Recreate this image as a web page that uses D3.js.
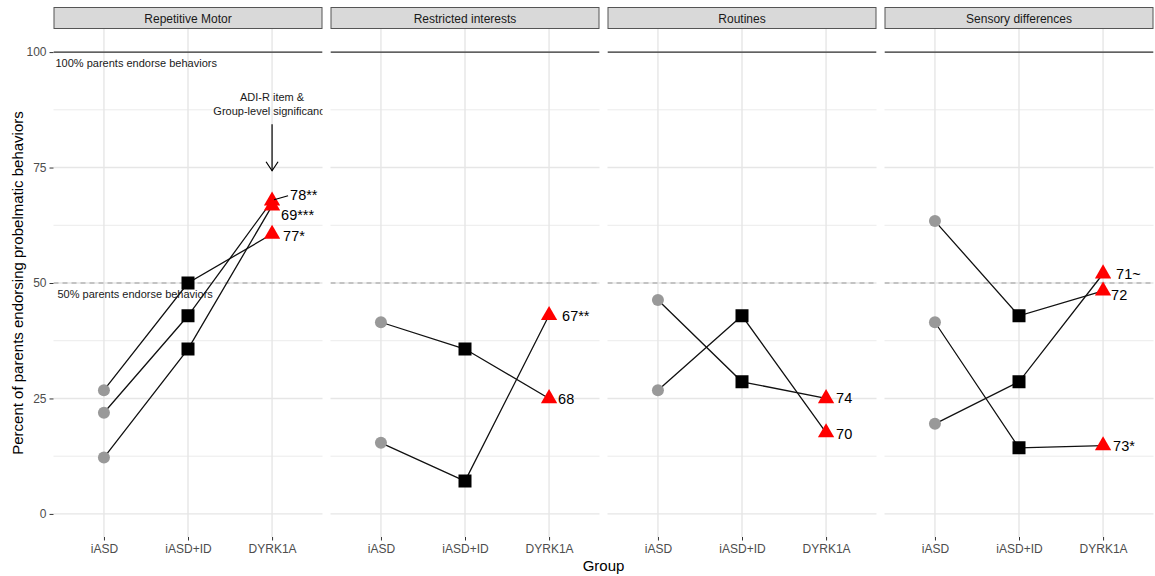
<!DOCTYPE html>
<html>
<head>
<meta charset="utf-8">
<script src="https://cdn.jsdelivr.net/npm/d3@7"></script>
<style>
  body { margin: 0; background: #fff; }
  svg { display: block; font-family: "Liberation Sans", Arial, sans-serif; }
</style>
</head>
<body>
<svg id="chart" width="1155" height="576"></svg>
<script>
// ---------- data ----------
const facets = ["Repetitive Motor", "Restricted interests", "Routines", "Sensory differences"];
const groups = ["iASD", "iASD+ID", "DYRK1A"];
const yTicks = [0, 25, 50, 75, 100];
const yMinor = [12.5, 37.5, 62.5, 87.5];

// one entry per ADI-R item (line)
const itemFacet = ["Repetitive Motor", "Repetitive Motor", "Repetitive Motor",
                   "Restricted interests", "Restricted interests",
                   "Routines", "Routines",
                   "Sensory differences", "Sensory differences", "Sensory differences"];
const valuesIASD   = [26.8, 21.9, 12.2, 41.5, 15.4, 46.3, 26.8, 63.4, 41.5, 19.5];
const valuesIASDID = [50.0, 42.9, 35.7, 35.7, 7.1, 28.6, 42.9, 42.9, 14.3, 28.6];
const valuesDYRK   = [60.6, 67.8, 66.7, 25.0, 43.0, 25.0, 17.6, 48.3, 14.8, 52.0];
const itemLabels   = ["77*", "78**", "69***", "68", "67**", "74", "70", "72", "73*", "71~"];
// label nudges (px) as placed by the repel algorithm
const labelDx = [11, 18, 9, 9, 13, 10, 10, 8, 10, 13];
const labelDy = [2, -6, 9, 1, 1, 0, 1, 4, 0, 0];
const labelSegment = [false, true, false, false, false, false, false, false, false, false];

const refLines = [{ value: 100, text: "100% parents endorse behaviors", dash: null },
                  { value: 50, text: "50% parents endorse behaviors", dash: "5,4" }];
const annotationLines = ["ADI-R item &", "Group-level significance"];
const annotationArrow = [84.4, 74.3]; // y-values of arrow start/end

// ---------- layout ----------
const svg = d3.select("#chart");
const panelTop = 29, panelBottom = 537;
const fx = d3.scaleBand().domain(facets).range([53.5, 1153.5]).paddingInner(8 / 277).paddingOuter(0);
const pw = fx.bandwidth();
const x = d3.scalePoint().domain(groups).range([0, pw]).padding(0.6);
const y = d3.scaleLinear().domain([-5, 105]).range([panelBottom, panelTop]);

const defs = svg.append("defs");
facets.forEach((f, i) => {
  defs.append("clipPath").attr("id", "clip" + i)
    .append("rect").attr("x", 0).attr("y", panelTop).attr("width", pw).attr("height", panelBottom - panelTop);
});

const items = itemFacet.map((f, i) => ({
  facet: f,
  vals: [valuesIASD[i], valuesIASDID[i], valuesDYRK[i]],
  label: itemLabels[i], dx: labelDx[i], dy: labelDy[i], seg: labelSegment[i]
}));

facets.forEach((f, fi) => {
  const g = svg.append("g").attr("transform", `translate(${fx(f)},0)`);

  // strip
  g.append("rect").attr("x", 0.5).attr("y", 7.5).attr("width", pw - 1).attr("height", panelTop - 8)
    .attr("fill", "#d9d9d9").attr("stroke", "#555").attr("stroke-width", 1);
  g.append("text").attr("x", pw / 2).attr("y", 18.5).attr("text-anchor", "middle")
    .attr("dominant-baseline", "central").attr("font-size", 12).attr("fill", "#1a1a1a").text(f);

  // grid
  const grid = g.append("g");
  yMinor.forEach(v => grid.append("line").attr("x1", 0).attr("x2", pw).attr("y1", y(v)).attr("y2", y(v))
    .attr("stroke", "#ebebeb").attr("stroke-width", 1));
  yTicks.forEach(v => grid.append("line").attr("x1", 0).attr("x2", pw).attr("y1", y(v)).attr("y2", y(v))
    .attr("stroke", "#e6e6e6").attr("stroke-width", 1.4));
  groups.forEach(c => grid.append("line").attr("x1", x(c)).attr("x2", x(c)).attr("y1", panelTop).attr("y2", panelBottom)
    .attr("stroke", "#e6e6e6").attr("stroke-width", 1.4));

  const pg = g.append("g").attr("clip-path", `url(#clip${fi})`);

  // reference lines
  refLines.forEach(r => {
    pg.append("line").attr("x1", 0).attr("x2", pw).attr("y1", y(r.value)).attr("y2", y(r.value))
      .attr("stroke", r.dash ? "#9a9a9a" : "#333").attr("stroke-width", r.dash ? 1.2 : 1.1)
      .attr("stroke-dasharray", r.dash);
  });

  const fItems = items.filter(d => d.facet === f);
  const line = d3.line().x((d, i) => x(groups[i])).y(d => y(d));
  pg.selectAll("path.item").data(fItems).join("path").attr("class", "item")
    .attr("d", d => line(d.vals)).attr("fill", "none").attr("stroke", "#111").attr("stroke-width", 1.3);

  // points
  fItems.forEach(d => {
    pg.append("circle").attr("cx", x(groups[0])).attr("cy", y(d.vals[0])).attr("r", 6).attr("fill", "#999999");
    pg.append("path").attr("d", d3.symbol(d3.symbolSquare, 169)())
      .attr("transform", `translate(${x(groups[1])},${y(d.vals[1])})`).attr("fill", "#000");
    pg.append("path").attr("d", d3.symbol(d3.symbolTriangle, 115)())
      .attr("transform", `translate(${x(groups[2])},${y(d.vals[2])})`).attr("fill", "#ff0000");
  });

  if (fi === 0) {
    refLines.forEach(r => {
      pg.append("text").attr("x", r.value === 100 ? 2 : 4).attr("y", y(r.value) + 11)
        .attr("dominant-baseline", "central").attr("font-size", 11).attr("fill", "#1a1a1a").text(r.text);
    });
    annotationLines.forEach((t, i) => {
      pg.append("text").attr("x", x("DYRK1A")).attr("y", y(annotationArrow[0]) - 27 + i * 13.5)
        .attr("text-anchor", "middle").attr("dominant-baseline", "central")
        .attr("font-size", 11).attr("fill", "#1a1a1a").text(t);
    });
    const ax = x("DYRK1A"), ay1 = y(annotationArrow[0]), ay2 = y(annotationArrow[1]);
    pg.append("line").attr("x1", ax).attr("x2", ax).attr("y1", ay1).attr("y2", ay2)
      .attr("stroke", "#000").attr("stroke-width", 1.2);
    pg.append("path").attr("d", `M${ax - 6},${ay2 - 9}L${ax},${ay2}L${ax + 6},${ay2 - 9}`)
      .attr("fill", "none").attr("stroke", "#000").attr("stroke-width", 1.2);
  }

  // labels
  fItems.forEach(d => {
    const px = x(groups[2]), py = y(d.vals[2]);
    if (d.seg) {
      g.append("line").attr("x1", px + 2).attr("y1", py - 1).attr("x2", px + d.dx - 2).attr("y2", py + d.dy + 1)
        .attr("stroke", "#000").attr("stroke-width", 1.2);
    }
    g.append("text").attr("x", px + d.dx).attr("y", py + d.dy).attr("dominant-baseline", "central")
      .attr("font-size", 14.5).attr("fill", "#000").text(d.label);
  });

  // x axis
  const xa = g.append("g").attr("transform", `translate(0,${panelBottom})`)
    .call(d3.axisBottom(x).tickSize(3.5).tickPadding(4));
  xa.select(".domain").remove();
  xa.selectAll("line").attr("stroke", "#333").attr("stroke-width", 1);
  xa.selectAll("text").attr("font-size", 12).attr("fill", "#4d4d4d").attr("font-family", "Liberation Sans, Arial, sans-serif");
});

// y axis
const ya = svg.append("g").attr("transform", `translate(53.5,0)`)
  .call(d3.axisLeft(y).tickValues(yTicks).tickSize(4).tickPadding(3));
ya.select(".domain").remove();
ya.selectAll("line").attr("stroke", "#333").attr("stroke-width", 1);
ya.selectAll("text").attr("font-size", 12).attr("fill", "#4d4d4d").attr("font-family", "Liberation Sans, Arial, sans-serif");

// titles
svg.append("text").attr("x", 603.5).attr("y", 565).attr("text-anchor", "middle").attr("dominant-baseline", "central")
  .attr("font-size", 15).attr("fill", "#000").text("Group");
svg.append("text").attr("transform", `translate(17,${(panelTop + panelBottom) / 2}) rotate(-90)`)
  .attr("text-anchor", "middle").attr("dominant-baseline", "central")
  .attr("font-size", 15).attr("fill", "#000").text("Percent of parents endorsing probelmatic behaviors");
</script>
</body>
</html>
